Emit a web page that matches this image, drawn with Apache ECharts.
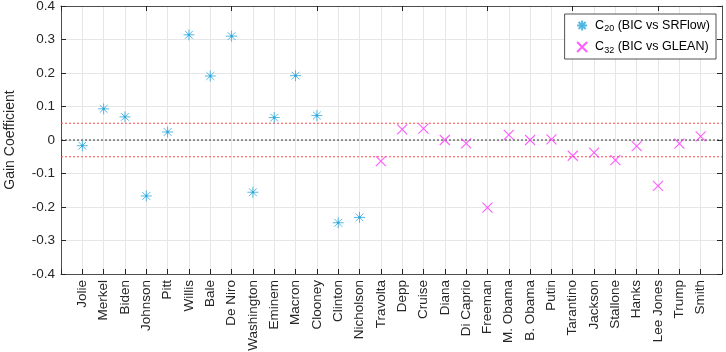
<!DOCTYPE html>
<html>
<head>
<meta charset="utf-8">
<script src="https://cdn.jsdelivr.net/npm/echarts@6/dist/echarts.min.js"></script>
<style>
  html, body { margin: 0; padding: 0; background: #fff; }
  #chart { width: 726px; height: 352px; }
</style>
</head>
<body>
<div id="chart"></div>
<script>
// names along the x axis
const names20 = ["Jolie", "Merkel", "Biden", "Johnson", "Pitt", "Willis", "Bale", "De Niro",
    "Washington", "Eminem", "Macron", "Clooney", "Clinton", "Nicholson"];
const names32 = ["Travolta", "Depp", "Cruise", "Diana", "Di Caprio", "Freeman", "M. Obama",
    "B. Obama", "Putin", "Tarantino", "Jackson", "Stallone", "Hanks", "Lee Jones", "Trump", "Smith"];

// gain values
const gain20 = [-0.017, 0.093, 0.069, -0.167, 0.024, 0.314, 0.191, 0.310,
    -0.156, 0.067, 0.192, 0.073, -0.247, -0.231];
const gain32 = [-0.063, 0.032, 0.034, 0.000, -0.010, -0.202, 0.015,
    0.000, 0.002, -0.047, -0.038, -0.060, -0.018, -0.137, -0.011, 0.011];

const yTicks = [-0.4, -0.3, -0.2, -0.1, 0, 0.1, 0.2, 0.3, 0.4];
const bandUpper = 0.05;
const bandLower = -0.05;
const zeroLevel = 0;

// empty slot at each end so the frame sits one step outside the names
const xData = [""].concat(names20, names32, [""]);

const asterisk = "path://M0,-10L0,10M-10,0L10,0M-7.07,-7.07L7.07,7.07M-7.07,7.07L7.07,-7.07M-1.3,-1.3L1.3,-1.3L1.3,1.3L-1.3,1.3Z";
const cross = "path://M-10,-10L10,10M-10,10L10,-10";

const font = "Liberation Sans, Arial, Helvetica, sans-serif";
const rich = {
    a: { fontSize: 12.5, fontFamily: font, color: "#000" },
    s: { fontSize: 9, fontFamily: font, color: "#000", verticalAlign: "bottom", padding: [7, 0, 0, 0] }
};

// dotted horizontal line across the whole frame
function refLine(name, level, color) {
    return {
        name: name,
        type: "line",
        data: [[0, level], [xData.length - 1, level]],
        symbol: "none",
        silent: true,
        z: 2,
        lineStyle: { color: color, type: [2, 2], width: 1 },
        itemStyle: { color: color }
    };
}

const myChart = echarts.init(document.getElementById("chart"));

const option = {
    animation: false,
    grid: { left: 61, right: 4, top: 6, bottom: 78, containLabel: false, outerBoundsMode: "none" },
    legend: {
        right: 10,
        top: 14,
        orient: "vertical",
        backgroundColor: "#fff",
        borderColor: "#262626",
        borderWidth: 0.8,
        borderRadius: 0,
        padding: [5, 6, 4, 10],
        itemGap: 6,
        itemWidth: 16,
        itemHeight: 10,
        data: ["c20", "c32"],
        formatter: (name) => name === "c20"
            ? "{a|C}{s|20}{a| (BIC vs SRFlow)}"
            : "{a|C}{s|32}{a| (BIC vs GLEAN)}",
        textStyle: { rich: rich }
    },
    xAxis: [
        {
            type: "category",
            data: xData,
            boundaryGap: false,
            axisLine: { onZero: false, lineStyle: { color: "#262626", width: 0.8 } },
            axisTick: { inside: true, length: 5, lineStyle: { color: "#262626" } },
            splitLine: { show: true, lineStyle: { color: "#e6e6e6" } },
            axisLabel: {
                rotate: 90, interval: 0, margin: 6,
                fontSize: 13.5, fontFamily: font, color: "#262626"
            }
        },
        {
            type: "category",
            position: "top",
            data: xData,
            boundaryGap: false,
            axisLine: { onZero: false, lineStyle: { color: "#262626", width: 0.8 } },
            axisTick: { inside: true, length: 5, lineStyle: { color: "#262626" } },
            axisLabel: { show: false }
        }
    ],
    yAxis: [
        {
            type: "value",
            min: -0.4, max: 0.4, interval: 0.1,
            name: "Gain Coefficient",
            nameLocation: "middle",
            nameGap: 44,
            nameTextStyle: { fontSize: 14, fontFamily: font, color: "#262626" },
            axisLine: { show: true, lineStyle: { color: "#262626", width: 0.8 } },
            axisTick: { show: true, inside: true, length: 5, lineStyle: { color: "#262626" } },
            splitLine: { show: true, lineStyle: { color: "#e6e6e6" } },
            axisLabel: {
                fontSize: 13.5, fontFamily: font, color: "#262626", margin: 6,
                formatter: (v) => {
                    const t = yTicks.find(k => Math.abs(k - v) < 1e-9);
                    return t === 0 ? "0" : t.toFixed(1);
                }
            }
        },
        {
            type: "value",
            position: "right",
            min: -0.4, max: 0.4, interval: 0.1,
            axisLine: { show: true, lineStyle: { color: "#262626", width: 0.8 } },
            axisTick: { show: true, inside: true, length: 5, lineStyle: { color: "#262626" } },
            splitLine: { show: false },
            axisLabel: { show: false }
        }
    ],
    series: [
        refLine("upper", bandUpper, "#ff4d4d"),
        refLine("lower", bandLower, "#ff4d4d"),
        refLine("zero", zeroLevel, "#333333"),
        {
            name: "c20",
            type: "scatter",
            data: names20.map((n, i) => [n, gain20[i]]),
            symbol: asterisk,
            symbolSize: 11,
            itemStyle: { color: "#0072bd", borderColor: "#2aa7dc", borderWidth: 1 },
            z: 5
        },
        {
            name: "c32",
            type: "scatter",
            data: names32.map((n, i) => [n, gain32[i]]),
            symbol: cross,
            symbolSize: 10,
            itemStyle: { color: "none", borderColor: "#ff33ff", borderWidth: 1.1 },
            z: 5
        }
    ]
};

myChart.setOption(option);
</script>
</body>
</html>
